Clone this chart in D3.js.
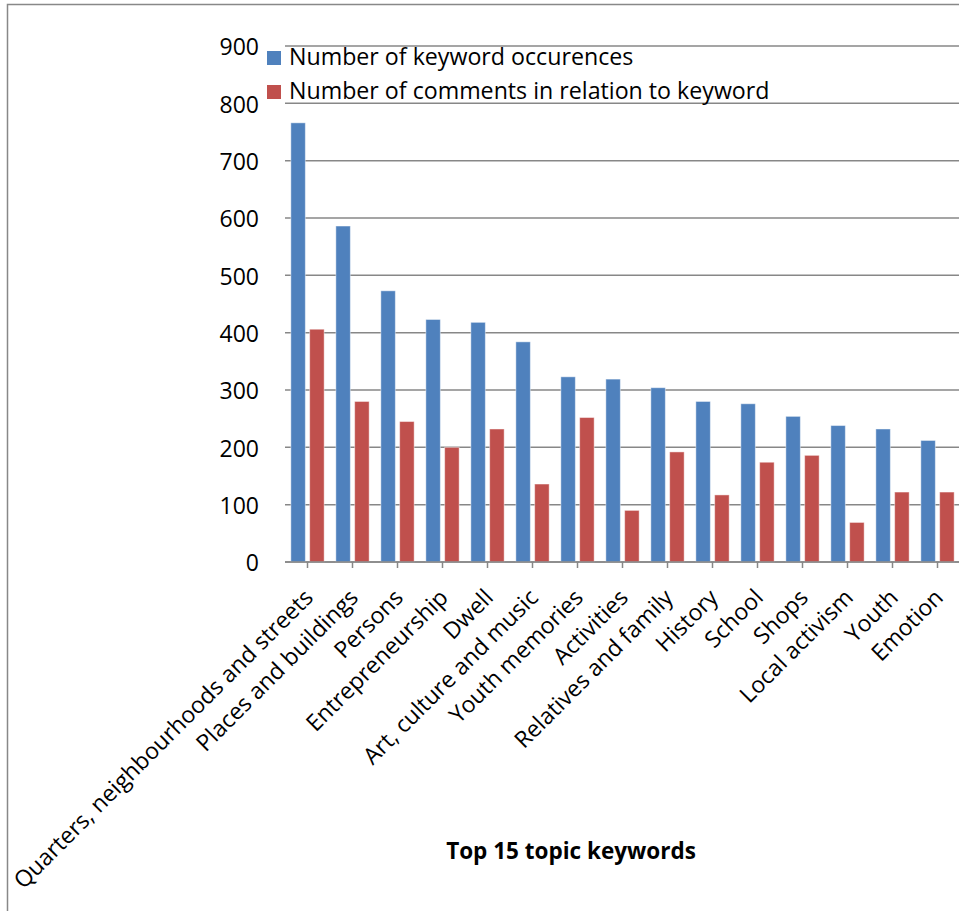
<!DOCTYPE html>
<html lang="en">
<head>
    <meta charset="UTF-8">
    <title>Top 15 topic keywords</title>
    <style>
        body{
            margin: 0;
            background: #fff;
        }
        text{
            font-family: "Open Sans", sans-serif;
            fill: #000;
        }
    </style>
</head>
<body>
    <div id="chart"></div>
    <script src="https://d3js.org/d3.v7.min.js"></script>
    <script>
        var keywords = ["Quarters, neighbourhoods and streets", "Places and buildings", "Persons",
            "Entrepreneurship", "Dwell", "Art, culture and music", "Youth memories", "Activities",
            "Relatives and family", "History", "School", "Shops", "Local activism", "Youth", "Emotion"];
        var occurences = [766, 586, 473, 423, 418, 384, 323, 319, 304, 280, 276, 254, 238, 232, 212];
        var comments = [406, 280, 245, 200, 232, 136, 252, 90, 192, 117, 174, 186, 69, 122, 122];
        var seriesNames = ["Number of keyword occurences", "Number of comments in relation to keyword"];
        var yTicks = [0, 100, 200, 300, 400, 500, 600, 700, 800, 900];
        var colors = ["#4F81BD", "#C0504D"];

        var width = 959, height = 911;
        var plotLeft = 285, plotRight = 960, plotTop = 46, plotBottom = 562;

        var svg = d3.select("#chart").append("svg")
            .attr("width", width)
            .attr("height", height);

        // outer frame (cut off on right/bottom like the source)
        svg.append("rect")
            .attr("x", 7.5).attr("y", 4.5)
            .attr("width", 1000).attr("height", 1000)
            .attr("fill", "none")
            .attr("stroke", "#888")
            .attr("stroke-width", 1.5);

        var x0 = d3.scaleBand()
            .domain(keywords)
            .range([plotLeft, plotRight])
            .paddingInner(0.26)
            .paddingOuter(0.13);
        var x1 = d3.scaleBand()
            .domain([0, 1])
            .range([0, x0.bandwidth()])
            .paddingInner(0.23);
        var y = d3.scaleLinear()
            .domain([0, 900])
            .range([plotBottom, plotTop]);

        // gridlines
        svg.append("g").selectAll("line")
            .data(yTicks)
            .enter()
            .append("line")
            .attr("x1", plotLeft)
            .attr("x2", plotRight)
            .attr("y1", function(d){ return y(d); })
            .attr("y2", function(d){ return y(d); })
            .attr("stroke", "#878787")
            .attr("stroke-width", 1.5);

        // y labels
        svg.append("g").selectAll("text")
            .data(yTicks)
            .enter()
            .append("text")
            .attr("x", 259)
            .attr("y", function(d){ return y(d) + 1; })
            .attr("dy", "0.36em")
            .attr("text-anchor", "end")
            .style("font-size", "23px")
            .text(function(d){ return d; });

        // bars
        var rows = keywords.map(function(k, i){
            return {k: k, v: [occurences[i], comments[i]]};
        });
        var groups = svg.append("g").selectAll("g")
            .data(rows)
            .enter()
            .append("g")
            .attr("transform", function(d){ return "translate(" + x0(d.k) + ",0)"; });
        groups.selectAll("rect")
            .data(function(d){ return d.v.map(function(v, j){ return {j: j, v: v}; }); })
            .enter()
            .append("rect")
            .attr("x", function(d){ return x1(d.j); })
            .attr("y", function(d){ return y(d.v); })
            .attr("width", x1.bandwidth())
            .attr("height", function(d){ return plotBottom - y(d.v); })
            .attr("fill", function(d){ return colors[d.j]; })
            .attr("stroke", "rgba(255,255,255,0.45)")
            .attr("stroke-width", 1);

        // x axis line + ticks
        svg.append("line")
            .attr("x1", plotLeft).attr("x2", plotRight)
            .attr("y1", plotBottom).attr("y2", plotBottom)
            .attr("stroke", "#878787").attr("stroke-width", 1.5);
        svg.append("g").selectAll("line")
            .data(keywords)
            .enter()
            .append("line")
            .attr("x1", function(d){ return x0(d) + x0.bandwidth() / 2; })
            .attr("x2", function(d){ return x0(d) + x0.bandwidth() / 2; })
            .attr("y1", plotBottom)
            .attr("y2", plotBottom + 6)
            .attr("stroke", "#878787")
            .attr("stroke-width", 1.5);

        // category labels
        svg.append("g").selectAll("text")
            .data(keywords)
            .enter()
            .append("text")
            .attr("text-anchor", "end")
            .style("font-size", "23px")
            .attr("transform", function(d){
                var cx = x0(d) + x0.bandwidth() / 2 + 7;
                return "translate(" + cx + "," + (plotBottom + 37) + ") rotate(-45)";
            })
            .text(function(d){ return d; });

        // legend
        var legend = svg.append("g").selectAll("g")
            .data(seriesNames)
            .enter()
            .append("g")
            .attr("transform", function(d, i){ return "translate(267," + (51 + i * 34) + ")"; });
        legend.append("rect")
            .attr("width", 14).attr("height", 14)
            .attr("fill", function(d, i){ return colors[i]; });
        legend.append("text")
            .attr("x", 22).attr("y", 14)
            .style("font-size", "23.2px")
            .text(function(d){ return d; });

        // axis title
        svg.append("text")
            .attr("x", 571)
            .attr("y", 859)
            .attr("text-anchor", "middle")
            .style("font-size", "22.5px")
            .style("font-weight", "bold")
            .text("Top 15 topic keywords");
    </script>
</body>
</html>
